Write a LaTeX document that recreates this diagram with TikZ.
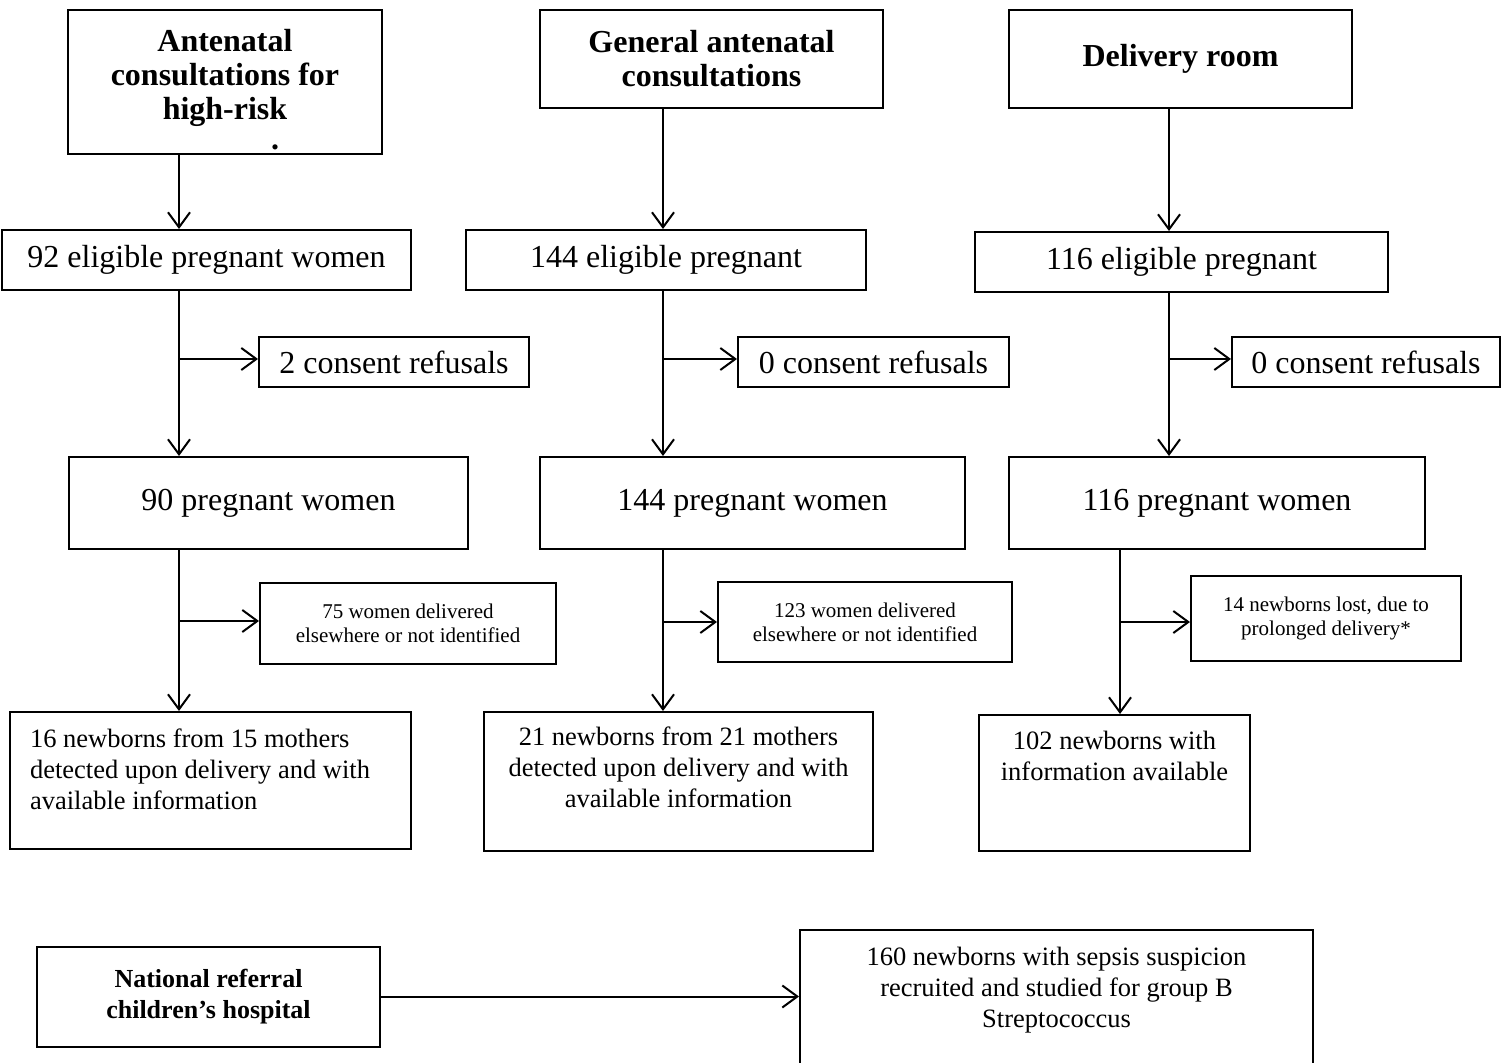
\documentclass[tikz,border=0pt]{standalone}
\usepackage{fontspec}
\setmainfont{Liberation Serif}
\usetikzlibrary{arrows.meta,positioning}

\begin{document}
\begin{tikzpicture}[x=0.5pt, y=-0.5pt,
    box/.style={rectangle, draw, line width=1pt, inner sep=2pt, align=center, font=\fontsize{16}{19}\selectfont},
    headbox/.style={box, font=\fontsize{16}{17}\selectfont\bfseries},
    sidebox/.style={box, font=\fontsize{10.5}{12}\selectfont},
    tallbox/.style={rectangle, draw, line width=1pt, inner sep=0pt, font=\fontsize{13.25}{15.5}\selectfont},
    dims/.style 2 args={minimum width=#1*0.5pt, minimum height=#2*0.5pt},
    flow/.style={line width=1pt, -{Straight Barb[length=7.5pt,width=11pt]}}
  ]
    \useasboundingbox (0,0) rectangle (1502,1063);
    \clip (0,0) rectangle (1502,1063);

    % Recruitment sites
    \node[tallbox, font=\fontsize{16}{17}\selectfont\bfseries] (hirisk) at (225,82)
      {\parbox[c][72pt][t]{157pt}{\centering\vspace*{9.8pt}Antenatal\\consultations for\\high-risk\\[-2pt]\hspace*{50pt}.}};
    \node[headbox, dims={343}{98}] (general) at (711.5,59) {General antenatal\\consultations};
    \node[headbox, dims={343}{98}] (delivery) at (1180.5,59) {Delivery room};

    % Eligible women
    \node[box, dims={409}{60}] (elig1) at (206.5,260) {92 eligible pregnant women};
    \node[box, dims={400}{60}] (elig2) at (666,260) {144 eligible pregnant};
    \node[box, dims={413}{60}] (elig3) at (1181.5,262) {116 eligible pregnant};

    % Refusals
    \node[box, dims={270}{50}] (refuse1) at (394,362) {2 consent refusals};
    \node[box, dims={271}{50}] (refuse2) at (873.5,362) {0 consent refusals};
    \node[box, dims={268}{50}] (refuse3) at (1366,362) {0 consent refusals};

    % Included women
    \node[box, dims={399}{92}] (preg1) at (268.5,503) {90 pregnant women};
    \node[box, dims={425}{92}] (preg2) at (752.5,503) {144 pregnant women};
    \node[box, dims={416}{92}] (preg3) at (1217,503) {116 pregnant women};

    % Losses
    \node[sidebox, dims={296}{81}] (lost1) at (408,623) {75 women delivered\\elsewhere or not identified};
    \node[sidebox, dims={294}{80}] (lost2) at (865,622) {123 women delivered\\elsewhere or not identified};
    \node[sidebox, dims={270}{85}] (lost3) at (1326,618.5) {14 newborns lost, due to\\prolonged delivery*};

    % Newborns
    \node[tallbox, inner xsep=10pt] (born1) at (210.5,780.5)
      {\parbox[c][68.5pt][t]{180.5pt}{\raggedright\vspace*{8.2pt}16 newborns from 15 mothers\\detected upon delivery and with\\available information}};
    \node[tallbox] (born2) at (678.5,781.5)
      {\parbox[c][69.5pt][t]{194.5pt}{\centering\vspace*{7.4pt}21 newborns from 21 mothers\\detected upon delivery and with\\available information}};
    \node[tallbox] (born3) at (1114.5,783)
      {\parbox[c][68pt][t]{135.5pt}{\centering\vspace*{8.3pt}102 newborns with\\information available}};

    % Referral hospital
    \node[headbox, font=\fontsize{13}{15.5}\selectfont\bfseries, dims={343}{100}] (referral) at (208.5,996.5) {National referral\\children's hospital};
    \node[tallbox] (sepsis) at (1056.5,1005)
      {\parbox[c][75pt][t]{256.5pt}{\centering\vspace*{8.8pt}160 newborns with sepsis suspicion\\recruited and studied for group B\\Streptococcus}};

    % Trunks and branch points
    \coordinate (x1) at (179,0);
    \coordinate (x2) at (663,0);
    \coordinate (x3) at (1169,0);
    \coordinate (x4) at (1120,0);
    \coordinate (j1) at (179,359);
    \coordinate (j2) at (663,359);
    \coordinate (j3) at (1169,359);
    \coordinate (k1) at (179,621);
    \coordinate (k2) at (663,622);
    \coordinate (k3) at (1120,622);

    % Arrows
    \draw[flow] (hirisk.south -| x1) -- (elig1.north -| x1);
    \draw[flow] (general.south -| x2) -- (elig2.north -| x2);
    \draw[flow] (delivery.south -| x3) -- (elig3.north -| x3);
    \draw[flow] (elig1.south -| x1) -- (preg1.north -| x1);
    \draw[flow] (elig2.south -| x2) -- (preg2.north -| x2);
    \draw[flow] (elig3.south -| x3) -- (preg3.north -| x3);
    \draw[flow] (preg1.south -| x1) -- (born1.north -| x1);
    \draw[flow] (preg2.south -| x2) -- (born2.north -| x2);
    \draw[flow] (preg3.south -| x4) -- (born3.north -| x4);
    \foreach \j/\s in {j1/refuse1, j2/refuse2, j3/refuse3, k1/lost1, k2/lost2, k3/lost3}
      \draw[flow] (\j) -- (\j -| \s.west);
    \draw[flow] (referral.east) -- (referral.east -| sepsis.west);
\end{tikzpicture}
\end{document}
